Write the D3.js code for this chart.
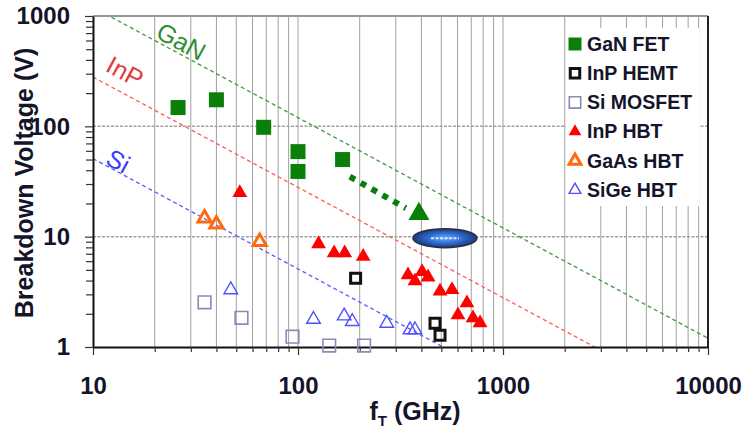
<!DOCTYPE html>
<html lang="en">
<head>
<meta charset="UTF-8">
<title>Breakdown Voltage vs fT</title>
<script src="https://d3js.org/d3.v7.min.js"></script>
<style>
  body { margin: 0; background: #fff; }
  svg text { font-family: Arial, "Liberation Sans", sans-serif; font-weight: bold; fill: #14142a; }
</style>
</head>
<body>
<svg width="748" height="433"></svg>
<script>
// points are [fT (GHz), breakdown voltage (V)]
const ganFet   = [[26, 148], [40, 174], [68, 98], [100, 59], [100, 39], [165, 50]];
const inpHemt  = [[191, 4.2], [466, 1.64], [493, 1.28]];
const siMosfet = [[35, 2.54], [53, 1.84], [94, 1.24], [142, 1.03], [210, 1.03]];
const inpHbt   = [[52, 25], [126, 8.6], [150, 7.1], [169, 7.1], [208, 6.6],
                  [344, 4.5], [372, 3.97], [403, 4.8], [431, 4.3], [493, 3.2],
                  [564, 3.3], [667, 2.5], [603, 1.95], [714, 1.83], [773, 1.65]];
const gaasHbt  = [[35, 14.7], [40, 13], [65, 9]];
const sigeHbt  = [[47, 3.3], [119, 1.78], [168, 1.91], [184, 1.7], [271, 1.64], [352, 1.43], [372, 1.43]];

// projected GaN trend (dotted arrow) and its target
const ganTrend  = [[179, 35], [336, 18.1]];
const ganTarget = [389, 16.1];
const logoAt    = [521, 9.7];

// limit lines: V * fT = const
const limitNames = ["GaN", "InP", "Si"];
const limitConst = [12000, 2800, 510];
const limitLabelF = [25.3, 12.9, 12.6];

const xMajors = [10, 100, 1000, 10000];
const yMajors = [1, 10, 100, 1000];

const svg = d3.select("svg");
const x = d3.scaleLog().domain([10, 10000]).range([93, 708]);
const y = d3.scaleLog().domain([1, 1000]).range([347, 16]);

// clip for plot area
svg.append("clipPath").attr("id", "plot")
  .append("rect").attr("x", 93).attr("y", 16).attr("width", 615).attr("height", 331);

// grid
svg.append("g").selectAll("line")
  .data(x.ticks().filter(d => d > 10 && d < 10000))
  .join("line")
  .attr("x1", d => x(d)).attr("x2", d => x(d))
  .attr("y1", 16).attr("y2", 347)
  .attr("stroke", "#a0a0a0").attr("stroke-width", 1);

svg.append("g").selectAll("line")
  .data([10, 100])
  .join("line")
  .attr("x1", 93).attr("x2", 708)
  .attr("y1", d => y(d)).attr("y2", d => y(d))
  .attr("stroke", "#a0a0a0").attr("stroke-width", 1.5)
  .attr("stroke-dasharray", "3,1.5");

// top & right frame
svg.append("line").attr("x1", 93).attr("x2", 708).attr("y1", 16).attr("y2", 16)
  .attr("stroke", "#999").attr("stroke-width", 2);
svg.append("line").attr("x1", 708).attr("x2", 708).attr("y1", 16).attr("y2", 347)
  .attr("stroke", "#222").attr("stroke-width", 2);

// legend background sits over the grid
svg.append("rect").attr("x", 566).attr("y", 28).attr("width", 133).attr("height", 178).attr("fill", "#fff");

// limit lines
const limitColor = ["#3f9a3f", "#ff5a5a", "#5a5aff"];
const limitText = ["#2f8f2f", "#e23a3a", "#3a3aff"];
const lg = svg.append("g").attr("clip-path", "url(#plot)");
limitConst.forEach((c, i) => {
  lg.append("line")
    .attr("x1", x(10)).attr("y1", y(c / 10))
    .attr("x2", x(10000)).attr("y2", y(c / 10000))
    .attr("stroke", limitColor[i]).attr("stroke-width", 1.3)
    .attr("stroke-dasharray", "4,3");
});

// text runs parallel to the limit lines (slope -1 on log-log)
const angle = Math.atan2(y(1) - y(10), x(100) - x(10)) * 180 / Math.PI;
const labelLift = [3, 11, 1];
limitNames.forEach((n, i) => {
  const f = limitLabelF[i];
  svg.append("text")
    .attr("transform", `translate(${x(f)},${y(limitConst[i] / f)}) rotate(${angle})`)
    .attr("y", -labelLift[i])
    .attr("text-anchor", "middle")
    .style("font-weight", "normal")
    .style("font-size", "25px")
    .style("fill", limitText[i])
    .text(n);
});

// axes
const xAxis = svg.append("g").attr("transform", "translate(0,347)")
  .call(d3.axisBottom(x).tickValues(x.ticks()).tickSize(5).tickSizeOuter(0)
    .tickFormat(d => xMajors.includes(d) ? d : ""));
const yAxis = svg.append("g").attr("transform", "translate(93,0)")
  .call(d3.axisLeft(y).tickValues(y.ticks()).tickSize(7).tickSizeOuter(0)
    .tickFormat(d => yMajors.includes(d) ? d : ""));

[xAxis, yAxis].forEach(a => {
  a.select(".domain").attr("stroke", "#111").attr("stroke-width", 2);
  a.selectAll(".tick line").attr("stroke", "#333").attr("stroke-width", 1.2);
  a.selectAll(".tick text").style("font-size", "24px").attr("fill", "#14142a");
});
xAxis.selectAll(".tick").filter(d => xMajors.includes(d)).select("line").attr("y2", 8);
xAxis.selectAll(".tick text").attr("y", 47).attr("dy", 0);
yAxis.selectAll(".tick").filter(d => yMajors.includes(d)).select("line").attr("x2", -8);
yAxis.selectAll(".tick text").attr("x", -23);

// axis titles
svg.append("text")
  .attr("transform", "translate(33,183) rotate(-90)")
  .attr("text-anchor", "middle")
  .style("font-size", "25px")
  .text("Breakdown Voltage (V)");

const xt = svg.append("text")
  .attr("x", 415).attr("y", 420)
  .attr("text-anchor", "middle")
  .style("font-size", "25px");
xt.append("tspan").text("f");
xt.append("tspan").attr("dy", 6).style("font-size", "15px").text("T");
xt.append("tspan").attr("dy", -6).text(" (GHz)");

// dotted GaN trend + target
const defs = svg.append("defs");
svg.append("line")
  .attr("x1", x(ganTrend[0][0])).attr("y1", y(ganTrend[0][1]))
  .attr("x2", x(ganTrend[1][0])).attr("y2", y(ganTrend[1][1]))
  .attr("stroke", "#0a800a").attr("stroke-width", 6)
  .attr("stroke-dasharray", "6,6.5");
svg.append("path")
  .attr("d", d3.symbol(d3.symbolTriangle, 190)())
  .attr("transform", `translate(${x(ganTarget[0])},${y(ganTarget[1])})`)
  .attr("fill", "#0a800a");

// logo ellipse
const grad = defs.append("radialGradient").attr("id", "logo");
grad.append("stop").attr("offset", "0%").attr("stop-color", "#6aa8ff");
grad.append("stop").attr("offset", "60%").attr("stop-color", "#2a64c8");
grad.append("stop").attr("offset", "100%").attr("stop-color", "#1b3a7a");
svg.append("ellipse")
  .attr("cx", x(logoAt[0])).attr("cy", y(logoAt[1]))
  .attr("rx", 32).attr("ry", 9.5)
  .attr("fill", "url(#logo)").attr("stroke", "#2a2a40").attr("stroke-width", 1.5);
svg.append("line")
  .attr("x1", x(logoAt[0]) - 14).attr("x2", x(logoAt[0]) + 14)
  .attr("y1", y(logoAt[1])).attr("y2", y(logoAt[1]))
  .attr("stroke", "#d8e6ff").attr("stroke-width", 2).attr("stroke-dasharray", "3,1.5");

// series
const series = [
  { name: "GaN FET",   data: ganFet,   shape: d3.symbolSquare,   size: 225, fill: "#0a800a", stroke: "none",    sw: 0,   lsize: 169 },
  { name: "InP HEMT",  data: inpHemt,  shape: d3.symbolSquare,   size: 100, fill: "none",    stroke: "#111",    sw: 3,   lsize: 90 },
  { name: "Si MOSFET", data: siMosfet, shape: d3.symbolSquare,   size: 160, fill: "none",    stroke: "#8a8ab8", sw: 1.6, lsize: 130 },
  { name: "InP HBT",   data: inpHbt,   shape: d3.symbolTriangle, size: 95,  fill: "#ff0000", stroke: "none",    sw: 0,   lsize: 70 },
  { name: "GaAs HBT",  data: gaasHbt,  shape: d3.symbolTriangle, size: 75,  fill: "none",    stroke: "#ff6a10", sw: 3,   lsize: 60 },
  { name: "SiGe HBT",  data: sigeHbt,  shape: d3.symbolTriangle, size: 80,  fill: "none",    stroke: "#5050ff", sw: 1.4, lsize: 60 }
];

series.forEach(s => {
  svg.append("g").selectAll("path")
    .data(s.data)
    .join("path")
    .attr("d", d3.symbol(s.shape, s.size)())
    .attr("transform", d => `translate(${x(d[0])},${y(d[1])})`)
    .attr("fill", s.fill).attr("stroke", s.stroke).attr("stroke-width", s.sw);
});

// legend
const leg = svg.append("g").attr("transform", "translate(575,44)");
series.forEach((s, i) => {
  const row = leg.append("g").attr("transform", `translate(0,${i * 29.2})`);
  row.append("path")
    .attr("d", d3.symbol(s.shape, s.lsize)())
    .attr("fill", s.fill).attr("stroke", s.stroke).attr("stroke-width", s.sw);
  row.append("text").attr("x", 12).attr("dy", "0.35em")
    .style("font-size", "19.5px").text(s.name);
});
</script>
</body>
</html>
